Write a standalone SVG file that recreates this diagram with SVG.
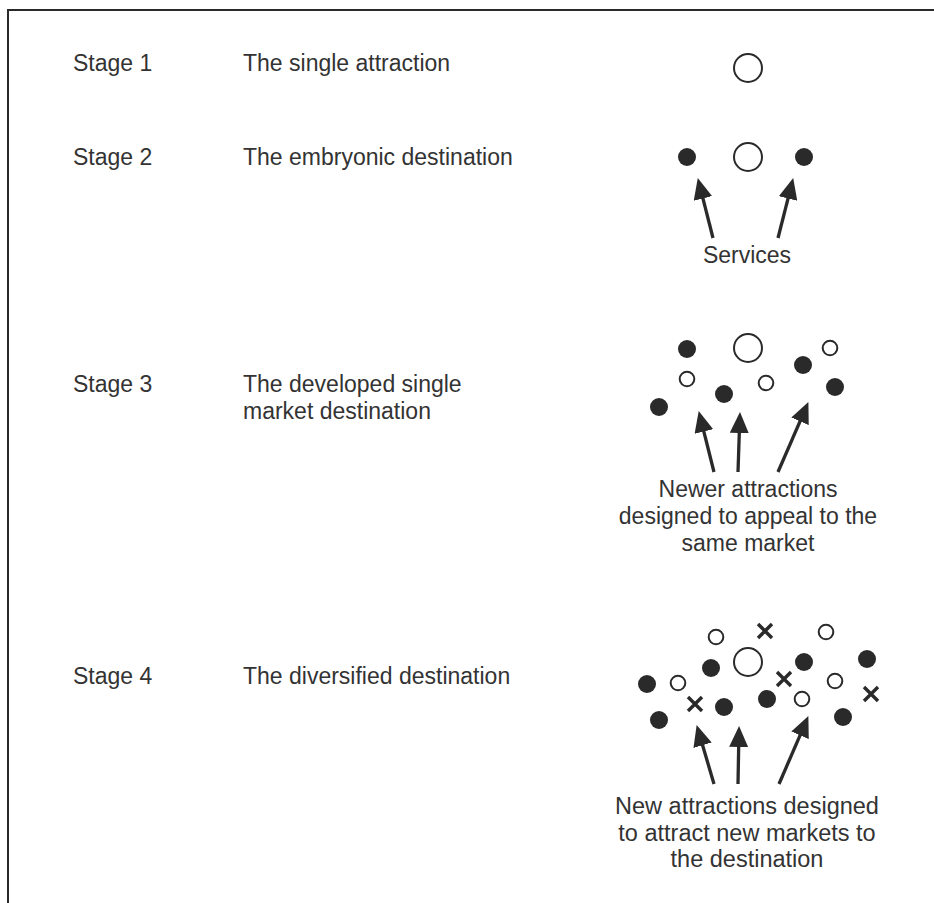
<svg xmlns="http://www.w3.org/2000/svg" width="934" height="903" viewBox="0 0 934 903">
<style>
  text { font-family: "Liberation Sans", Arial, sans-serif; font-size: 23px; fill: #333; }
  .mid { text-anchor: middle; }
  .big { fill: #fff; stroke: #2a2a2a; stroke-width: 2; }
  .open { fill: #fff; stroke: #2a2a2a; stroke-width: 2; }
  .dot { fill: #2a2a2a; }
  .x { stroke: #2a2a2a; stroke-width: 3.4; fill: none; }
  .arrow { stroke: #2a2a2a; stroke-width: 3.3; fill: none; marker-end: url(#ah); }
  .frame { stroke: #2a2a2a; stroke-width: 2; fill: none; }
</style>
<defs>
  <marker id="ah" markerUnits="userSpaceOnUse" markerWidth="21" markerHeight="19" refX="12" refY="9.5" orient="auto" viewBox="0 0 21 19">
    <path d="M0,0 L21,9.5 L0,19 z" fill="#2a2a2a"/>
  </marker>
  <g id="xm"><path class="x" d="M-7,-7 L7,7 M7,-7 L-7,7"/></g>
</defs>
<rect width="934" height="903" fill="#fff"/>
<path class="frame" d="M8,903 L8,10 L934,10"/>

<g id="stage1">
  <text x="73" y="71">Stage 1</text>
  <text x="243" y="71">The single attraction</text>
  <circle class="big" cx="748" cy="68" r="14"/>
</g>

<g id="stage2">
  <text x="73" y="165">Stage 2</text>
  <text x="243" y="165">The embryonic destination</text>
  <circle class="dot" cx="687" cy="157" r="9"/>
  <circle class="big" cx="748" cy="157" r="14"/>
  <circle class="dot" cx="804" cy="157" r="9"/>
  <text class="mid" x="747" y="263">Services</text>
</g>

<g id="stage3">
  <text x="73" y="392">Stage 3</text>
  <text x="243" y="392">The developed single</text>
  <text x="243" y="419">market destination</text>
  <circle class="dot" cx="687" cy="349" r="9"/>
  <circle class="big" cx="748" cy="348" r="14"/>
  <circle class="open" cx="687" cy="379" r="7.3"/>
  <circle class="dot" cx="724" cy="394" r="9"/>
  <circle class="open" cx="766" cy="383" r="7.3"/>
  <circle class="dot" cx="803" cy="365" r="9"/>
  <circle class="open" cx="830" cy="348" r="7.3"/>
  <circle class="dot" cx="835" cy="387" r="9"/>
  <circle class="dot" cx="659" cy="407" r="9"/>
  <text class="mid" x="748" y="497">Newer attractions</text>
  <text class="mid" x="748" y="524">designed to appeal to the</text>
  <text class="mid" x="748" y="551">same market</text>
</g>

<g id="stage4">
  <text x="73" y="684">Stage 4</text>
  <text x="243" y="684">The diversified destination</text>
  <circle class="open" cx="716" cy="637" r="7.3"/>
  <use href="#xm" x="765" y="631"/>
  <circle class="open" cx="826" cy="632" r="7.3"/>
  <circle class="big" cx="748" cy="662" r="14"/>
  <circle class="dot" cx="711" cy="668" r="9"/>
  <circle class="dot" cx="647" cy="684" r="9"/>
  <circle class="open" cx="678" cy="683" r="7.3"/>
  <use href="#xm" x="695" y="704"/>
  <circle class="dot" cx="724" cy="707" r="9"/>
  <circle class="dot" cx="659" cy="720" r="9"/>
  <circle class="dot" cx="767" cy="699" r="9"/>
  <use href="#xm" x="784" y="679"/>
  <circle class="dot" cx="804" cy="662" r="9"/>
  <circle class="open" cx="802" cy="699" r="7.3"/>
  <circle class="open" cx="835" cy="681" r="7.3"/>
  <circle class="dot" cx="867" cy="659" r="9"/>
  <use href="#xm" x="871" y="694"/>
  <circle class="dot" cx="843" cy="717" r="9"/>
  <text class="mid" x="747" y="814" style="font-size:23.5px">New attractions designed</text>
  <text class="mid" x="747" y="841" style="font-size:23.5px">to attract new markets to</text>
  <text class="mid" x="747" y="867" style="font-size:23.5px">the destination</text>
</g>

<g id="connectors">
  <path class="arrow" d="M713,238 L700,186.8"/>
  <path class="arrow" d="M778,238 L791,186.8"/>
  <path class="arrow" d="M714,472 L700.9,419.8"/>
  <path class="arrow" d="M738,472 L739.7,421"/>
  <path class="arrow" d="M778,472 L804.8,410.3"/>
  <path class="arrow" d="M714,784 L699.2,733.7"/>
  <path class="arrow" d="M738,784 L738.9,735"/>
  <path class="arrow" d="M779,784 L804.8,724.3"/>
</g>
</svg>
